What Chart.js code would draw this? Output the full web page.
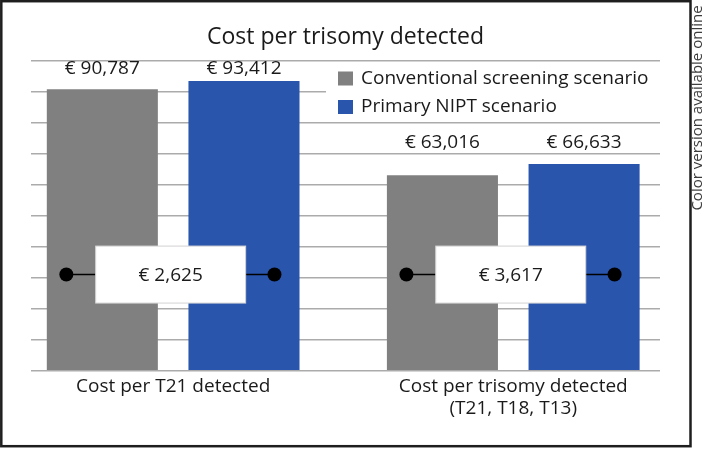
<!DOCTYPE html>
<html>
<head>
<meta charset="utf-8">
<script src="https://cdn.jsdelivr.net/npm/chart.js@4"></script>
<style>
  body { margin: 0; background: #fff; }
</style>
</head>
<body>
<canvas id="costChart" width="709" height="449"></canvas>
<script>
// categories and values
const categories = [['Cost per T21 detected'], ['Cost per trisomy detected', '(T21, T18, T13)']]
const seriesNames = ['Conventional screening scenario', 'Primary NIPT scenario']
const conventional = [90787, 63016]
const primaryNipt = [93412, 66633]
const yMax = 100000
const yStep = 10000

const FONT = '"Open Sans", "Noto Sans", sans-serif'
const INK = '#1a1a1a'
const GREY = '#808080'
const BLUE = '#2955ad'

const euro = v => '€ ' + v.toLocaleString('en-US')

// label lift above the taller bar, per group
const labelLift = [12, 21]
// level of the difference connector (in axis units)
const diffLevel = 31000

const extras = {
  id: 'extras',
  beforeDatasetsDraw(chart) {
    // legend sits inside the plot, on a white patch over the grid
    const ctx = chart.ctx
    ctx.save()
    ctx.fillStyle = '#fff'
    ctx.fillRect(326, 64, 336, 56)
    ctx.font = '19px ' + FONT
    ctx.textBaseline = 'middle'
    chart.data.datasets.forEach((ds, i) => {
      const y = 78.5 + i * 28.5
      ctx.fillStyle = ds.backgroundColor
      ctx.fillRect(338, y - 7, 15, 14)
      ctx.fillStyle = INK
      ctx.fillText(ds.label, 361, y)
    })
    ctx.restore()
  },
  afterDatasetsDraw(chart) {
    const ctx = chart.ctx
    const g = chart.getDatasetMeta(0).data
    const b = chart.getDatasetMeta(1).data
    const yScale = chart.scales.y
    ctx.save()
    ctx.textAlign = 'center'
    ctx.textBaseline = 'middle'
    categories.forEach((c, i) => {
      // value labels
      const top = Math.min(g[i].y, b[i].y) - labelLift[i]
      ctx.font = '19px ' + FONT
      ctx.fillStyle = INK
      ctx.fillText(euro(conventional[i]), g[i].x, top)
      ctx.fillText(euro(primaryNipt[i]), b[i].x, top)

      // difference marker
      const y = yScale.getPixelForValue(diffLevel)
      const x1 = g[i].x - 36
      const x2 = b[i].x + 30.5
      ctx.strokeStyle = '#000'
      ctx.lineWidth = 1.5
      ctx.beginPath()
      ctx.moveTo(x1, y)
      ctx.lineTo(x2, y)
      ctx.stroke()
      ctx.fillStyle = '#000'
      ;[x1, x2].forEach(x => {
        ctx.beginPath()
        ctx.arc(x, y, 7, 0, Math.PI * 2)
        ctx.fill()
      })
      const cx = (g[i].x + b[i].x) / 2 - 2.5
      ctx.fillStyle = '#fff'
      ctx.fillRect(cx - 75, y - 28.5, 150, 57)
      ctx.strokeStyle = '#d4d4d4'
      ctx.lineWidth = 1
      ctx.strokeRect(cx - 75, y - 28.5, 150, 57)
      ctx.fillStyle = INK
      ctx.fillText(euro(primaryNipt[i] - conventional[i]), cx, y + 1)
    })
    ctx.restore()
  },
  afterDraw(chart) {
    const ctx = chart.ctx
    ctx.save()
    // frame
    ctx.strokeStyle = '#1e1e1e'
    ctx.lineWidth = 2.5
    ctx.strokeRect(1.3, 1.2, 689.2, 445)
    // side note
    ctx.translate(698, 108)
    ctx.rotate(-Math.PI / 2)
    ctx.font = '15px ' + FONT
    ctx.fillStyle = '#3c3c3c'
    ctx.textAlign = 'center'
    ctx.textBaseline = 'middle'
    ctx.fillText('Color version available online', 0, 0)
    ctx.restore()
  }
}

const ctx = document.getElementById('costChart').getContext('2d')
const costChart = new Chart(ctx, {
  type: 'bar',
  data: {
    datasets: [{
      label: seriesNames[0],
      data: conventional.map((v, i) => ({ x: i + 1, y: v })),
      backgroundColor: GREY
    }, {
      label: seriesNames[1],
      data: primaryNipt.map((v, i) => ({ x: i + 1, y: v })),
      backgroundColor: BLUE
    }]
  },
  options: {
    responsive: false,
    animation: false,
    devicePixelRatio: 1,
    categoryPercentage: 0.833,
    barPercentage: 0.784,
    layout: { padding: { left: 31, right: 49, top: 0, bottom: 0 } },
    plugins: {
      legend: { display: false },
      tooltip: { enabled: false },
      title: {
        display: true,
        text: 'Cost per trisomy detected',
        color: INK,
        font: { family: FONT, size: 23, weight: 'normal', lineHeight: 1.2 },
        padding: { top: 24, bottom: 9 }
      }
    },
    scales: {
      x: {
        type: 'linear',
        offset: false,
        min: 0.582,
        max: 2.4315,
        grid: { display: false, drawTicks: false },
        border: { display: false },
        afterBuildTicks: s => { s.ticks = categories.map((c, i) => ({ value: i + 1 })) },
        afterFit: s => { s.height = 78.3 },
        ticks: {
          autoSkip: false,
          maxRotation: 0,
          padding: 5,
          color: INK,
          font: { family: FONT, size: 19, lineHeight: 1.16 },
          callback: v => categories[v - 1]
        }
      },
      y: {
        min: 0,
        max: yMax,
        grid: { color: '#ababab', lineWidth: 1.5, drawTicks: false },
        border: { display: false },
        afterFit: s => { s.width = 0 },
        ticks: { display: false, stepSize: yStep }
      }
    }
  },
  plugins: [extras]
})
</script>
</body>
</html>
